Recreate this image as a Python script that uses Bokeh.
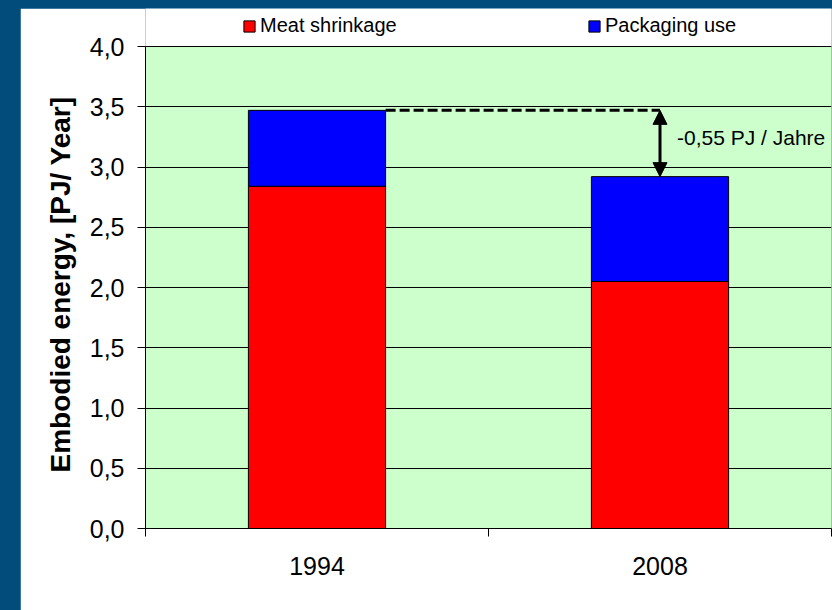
from bokeh.plotting import figure
from bokeh.models import (ColumnDataSource, FixedTicker, CustomJSTickFormatter, Range1d,
                          Legend, LegendItem, Arrow, NormalHead, BoxAnnotation, Title)
from bokeh.layouts import column
from bokeh.embed import file_html
from bokeh.resources import INLINE
from bokeh.core.properties import value

# --- data -------------------------------------------------------------
years = ["1994", "2008"]
meat_shrinkage = [2.84, 2.05]
packaging_use = [0.63, 0.87]
series_names = ["Meat shrinkage", "Packaging use"]
y_ticks = [0.0, 0.5, 1.0, 1.5, 2.0, 2.5, 3.0, 3.5, 4.0]
y_tick_labels = ["0,0", "0,5", "1,0", "1,5", "2,0", "2,5", "3,0", "3,5", "4,0"]
change_unit = "PJ / Jahre"
y_title = "Embodied energy, [PJ/ Year]"

# --- derived ----------------------------------------------------------
FONT = "Liberation Sans"
bar_width = 0.4
x_pos = [i + 0.5 for i in range(len(years))]
totals = [m + k for m, k in zip(meat_shrinkage, packaging_use)]
change = totals[1] - totals[0]
change_text = f"{change:.2f}".replace(".", ",") + " " + change_unit

# the frame reaches up into the legend strip; the axis itself stops at 4.0
y_top = y_ticks[-1] * 520 / 482

src = ColumnDataSource(dict(x=x_pos, meat=meat_shrinkage, pack=packaging_use, total=totals))

p = figure(width=812, height=602,
           x_range=Range1d(0, len(years)), y_range=Range1d(y_ticks[0], y_top),
           output_backend="svg", toolbar_location=None,
           min_border_left=125, min_border_right=1, min_border_top=0, min_border_bottom=82,
           background_fill_color="white", border_fill_color="white")
p.margin = (8, 0, 0, 20)
p.outline_line_color = None

# green plot area with black outline
p.add_layout(BoxAnnotation(left=0, right=len(years), bottom=y_ticks[0], top=y_ticks[-1],
                           fill_color="#CCFFCC", fill_alpha=1.0,
                           line_color="black", line_width=1, level="image"))

# stacked bars
r_meat = p.vbar(x="x", bottom=0, top="meat", width=bar_width, source=src,
                fill_color="#FF0000", line_color="black", line_width=1)
r_pack = p.vbar(x="x", bottom="meat", top="total", width=bar_width, source=src,
                fill_color="#0000FF", line_color="black", line_width=1)

# reference level of the first year and the change arrow
p.line(x=[x_pos[0] + bar_width / 2, x_pos[1]], y=[totals[0], totals[0]],
       line_color="black", line_width=3, line_dash="10 4")
p.add_layout(Arrow(start=NormalHead(size=14, fill_color="black", line_color="black"),
                   end=NormalHead(size=14, fill_color="black", line_color="black"),
                   x_start=x_pos[1], y_start=totals[0], x_end=x_pos[1], y_end=totals[1],
                   line_color="black", line_width=3))
p.text(x=[x_pos[1]], y=[(totals[0] + totals[1]) / 2], text=[change_text],
       x_offset=17, y_offset=-6, text_baseline="middle", text_align="left",
       text_font=value(FONT), text_font_size="21px", text_color="black")

# grid
p.xgrid.visible = False
p.ygrid.ticker = FixedTicker(ticks=y_ticks)
p.ygrid.grid_line_color = "black"
p.ygrid.grid_line_width = 1

LOOKUP = """
    const i = positions.findIndex(t => Math.abs(t - tick) < 1e-9);
    return i >= 0 ? names[i] : '';
"""

# y axis
yax = p.yaxis[0]
yax.bounds = (y_ticks[0], y_ticks[-1])
yax.ticker = FixedTicker(ticks=y_ticks, minor_ticks=[])
yax.formatter = CustomJSTickFormatter(args=dict(positions=y_ticks, names=y_tick_labels), code=LOOKUP)
yax.major_tick_in = 0
yax.major_tick_out = 8
yax.major_tick_line_color = "black"
yax.axis_line_color = "black"
yax.major_label_standoff = 13
yax.major_label_text_font = FONT
yax.major_label_text_font_size = "25px"
yax.major_label_text_color = "black"

# y title, placed along the 0-4 span rather than the whole frame
p.add_layout(Title(text=y_title, align="left", offset=56, standoff=21,
                   text_font=FONT, text_font_size="28px", text_font_style="bold",
                   text_color="black"), "left")

# x axis: labels at bar centres, tick marks on category boundaries
xax = p.xaxis[0]
xax.ticker = FixedTicker(ticks=x_pos, minor_ticks=list(range(len(years) + 1)))
xax.formatter = CustomJSTickFormatter(args=dict(positions=x_pos, names=years), code=LOOKUP)
xax.major_tick_line_color = None
xax.major_tick_in = 0
xax.major_tick_out = 8
xax.minor_tick_line_color = "black"
xax.minor_tick_in = 0
xax.minor_tick_out = 8
xax.axis_line_color = "black"
xax.major_label_standoff = 20
xax.major_label_text_font = FONT
xax.major_label_text_font_size = "25px"
xax.major_label_text_color = "black"

# legend in the strip above the green area
legend = Legend(items=[LegendItem(label=series_names[0], renderers=[r_meat]),
                       LegendItem(label=series_names[1], renderers=[r_pack])],
                orientation="horizontal", location=(97, 491),
                glyph_width=14, glyph_height=14, label_standoff=4, label_width=327,
                spacing=0, padding=0, margin=0,
                border_line_color=None, background_fill_alpha=0,
                label_text_font=FONT, label_text_font_size="20px", label_text_color="black")
p.add_layout(legend)

page = column(p, styles={"background-color": "#014C7A"})
open("out.html", "w").write(file_html(page, INLINE))
